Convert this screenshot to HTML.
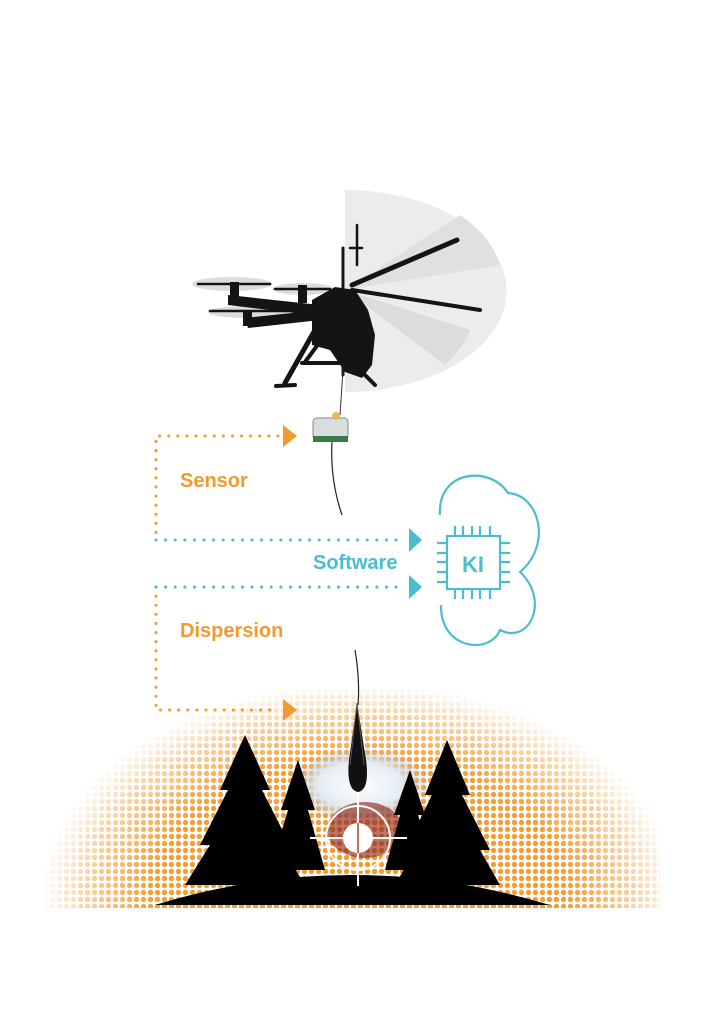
<!DOCTYPE html>
<html><head><meta charset="utf-8"><style>
html,body{margin:0;padding:0;background:#fff}
svg{display:block}
text{font-family:"Liberation Sans",sans-serif;font-weight:bold}
</style></head><body>
<svg width="724" height="1024" viewBox="0 0 724 1024" xmlns="http://www.w3.org/2000/svg">
<defs>
<pattern id="dots" width="7" height="7" patternUnits="userSpaceOnUse">
<circle cx="3.5" cy="3.5" r="2.7" fill="#f29a2e"/>
</pattern>
<radialGradient id="fade" gradientUnits="userSpaceOnUse" cx="360" cy="900" r="320" gradientTransform="translate(0,900) scale(1,0.68) translate(0,-900)">
<stop offset="0" stop-color="#fff" stop-opacity="1"/>
<stop offset="0.65" stop-color="#fff" stop-opacity="0.95"/>
<stop offset="0.85" stop-color="#fff" stop-opacity="0.45"/>
<stop offset="1" stop-color="#fff" stop-opacity="0"/>
</radialGradient>
<mask id="m"><rect x="0" y="680" width="724" height="230" fill="url(#fade)"/></mask>
<radialGradient id="smoke" cx="0.5" cy="0.5" r="0.5">
<stop offset="0" stop-color="#fff"/><stop offset="0.6" stop-color="#e4ecf2"/><stop offset="1" stop-color="#9fb3c4" stop-opacity="0"/>
</radialGradient>
</defs>

<rect x="20" y="690" width="640" height="218" fill="url(#dots)" mask="url(#m)"/>

<path d="M345,290 L345,190 A160,100 0 0 1 345,392 Z" fill="#ececec"/>
<path d="M345,290 L460,215 A150,100 0 0 1 500,265 Z" fill="#e0e0e0"/>
<path d="M345,290 L470,330 A150,100 0 0 1 445,365 Z" fill="#dcdcdc"/>

<ellipse cx="232" cy="284" rx="40" ry="7" fill="#dcdcdc"/>
<ellipse cx="303" cy="289" rx="30" ry="6" fill="#dcdcdc"/>
<ellipse cx="248" cy="312" rx="40" ry="6" fill="#dcdcdc"/>
<g fill="#141414" stroke="#141414" stroke-linecap="round">
<path d="M198,284 L270,284 M275,289 L330,289 M210,311 L290,311" stroke-width="2.5" fill="none"/>
<rect x="230" y="282" width="9" height="20" stroke="none"/>
<rect x="298" y="285" width="9" height="18" stroke="none"/>
<rect x="243" y="310" width="9" height="16" stroke="none"/>
<path d="M228,295 L320,305 L320,316 L228,305 Z" stroke="none"/>
<path d="M245,318 L320,310 L320,320 L248,328 Z" stroke="none"/>
<path d="M312,300 L335,287 L355,290 L368,310 L375,335 L372,365 L362,378 L345,372 L330,350 L312,345 Z" stroke="none"/>
<path d="M352,285 L457,240" stroke-width="5" fill="none"/>
<path d="M352,290 L480,310" stroke-width="4" fill="none"/>
<path d="M343,248 L343,375" stroke-width="3" fill="none"/>
<path d="M357,225 L357,265 M350,248 L362,248" stroke-width="2.5" fill="none"/>
<path d="M315,330 L285,383" stroke-width="5" fill="none"/>
<path d="M325,335 L305,362" stroke-width="4" fill="none"/>
<path d="M276,386 L295,385 M302,363 L342,363" stroke-width="4" fill="none"/>
<path d="M355,365 L375,385" stroke-width="4" fill="none"/>
</g>
<line x1="343" y1="370" x2="340" y2="415" stroke="#333" stroke-width="1"/>

<rect x="313" y="418" width="35" height="22" rx="4" fill="#d8dde0" stroke="#888"/>
<rect x="313" y="436" width="35" height="6" fill="#3a7a4a"/>
<circle cx="336" cy="416" r="4" fill="#e8b84a"/>
<path d="M332,442 Q330,480 342,515" stroke="#222" stroke-width="1.2" fill="none"/>

<g stroke="#f29a2e" stroke-width="3" stroke-dasharray="0.1 9" stroke-linecap="round" fill="none">
<path d="M278,436 L156,436 L156,540"/>
<path d="M156,587 L156,710 L278,710"/>
</g>
<path d="M283,425 L297,436 L283,447 Z" fill="#f29a2e"/>
<path d="M283,699 L297,710 L283,721 Z" fill="#f29a2e"/>
<g stroke="#4bbdd0" stroke-width="3" stroke-dasharray="0.1 9.5" stroke-linecap="round" fill="none">
<path d="M156,540 L404,540"/>
<path d="M156,587 L404,587"/>
</g>
<path d="M409,528 L422,540 L409,552 Z" fill="#4bbdd0"/>
<path d="M409,575 L422,587 L409,599 Z" fill="#4bbdd0"/>

<text x="180" y="487" font-size="20" fill="#f29a2e">Sensor</text>
<text x="180" y="637" font-size="20" fill="#f29a2e">Dispersion</text>
<text x="313" y="569" font-size="20" fill="#4bbdd0">Software</text>

<g stroke="#4bbdd0" stroke-width="2.2" fill="none">
<path d="M440,515 C437,470 490,465 508,493 C540,495 552,545 520,572 C550,600 530,645 500,630 C490,655 440,650 441,605"/>
<rect x="447" y="536" width="53" height="53"/>
<path d="M455,536v-10M463,536v-10M472,536v-10M480,536v-10M490,536v-10M455,589v10M463,589v10M472,589v10M480,589v10M490,589v10M447,543h-10M447,553h-10M447,562h-10M447,572h-10M447,582h-10M500,543h10M500,553h10M500,562h10M500,572h10M500,582h10"/>
</g>
<text x="473" y="572" font-size="22" fill="#4bbdd0" text-anchor="middle">KI</text>

<path d="M355,650 Q360,680 358,705" stroke="#222" stroke-width="1.2" fill="none"/>

<ellipse cx="360" cy="785" rx="70" ry="38" fill="url(#smoke)"/>
<ellipse cx="365" cy="830" rx="38" ry="28" fill="#8b1a12" opacity="0.6"/>

<g fill="#000">
<path d="M245,735 L270,790 L262,790 L290,845 L280,845 L305,885 L185,885 L210,845 L200,845 L228,790 L220,790 Z"/>
<path d="M447,740 L470,795 L462,795 L490,850 L480,850 L500,885 L395,885 L415,850 L405,850 L432,795 L425,795 Z"/>
<path d="M298,760 L315,810 L308,810 L325,870 L270,870 L288,810 L281,810 Z"/>
<path d="M410,770 L425,815 L418,815 L435,870 L385,870 L400,815 L394,815 Z"/>
<path d="M155,905 Q350,845 550,905 Z"/>
</g>
<path d="M357,703 L349,760 Q346,790 358,792 Q370,790 366,760 Z" fill="#111"/>
<path d="M357,703 L350,765 M357,703 L364,765" stroke="#555" stroke-width="1"/>
<g stroke="#fff" stroke-width="2" fill="none">
<circle cx="358" cy="838" r="32"/>
<line x1="310" y1="838" x2="407" y2="838"/>
<line x1="358" y1="792" x2="358" y2="886"/>
</g>
<circle cx="358" cy="838" r="15" fill="#fff"/>
<line x1="358" y1="823" x2="358" y2="853" stroke="#c0392b" stroke-width="1.5"/>
</svg>
</body></html>
